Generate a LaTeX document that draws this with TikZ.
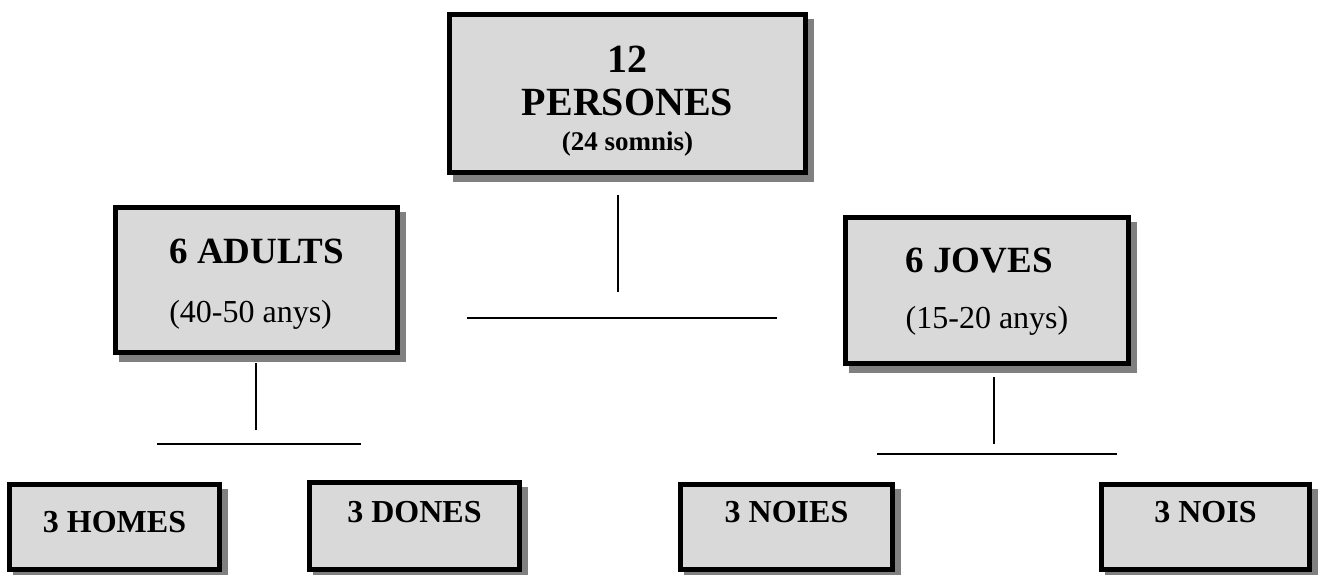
\documentclass[tikz,border=0pt]{standalone}
\usepackage{fontspec}
\setmainfont{Liberation Serif}
\usetikzlibrary{positioning}

\begin{document}
\begin{tikzpicture}[
    x=1pt, y=-1pt,
    box/.style={rectangle, draw=black, line width=5pt, fill=black!15, inner sep=0pt,
        preaction={draw=black!50, fill=black!50, line width=5pt, transform canvas={xshift=6pt, yshift=-6.5pt}}},
    leaf/.style={box, minimum width=210pt, minimum height=85pt, font=\fontsize{32}{36}\selectfont\bfseries, text height=22pt},
    link/.style={line width=2pt, black}
]
\useasboundingbox (0,0) rectangle (1325,574);

% boxes
\node[box, minimum width=356pt, minimum height=158pt, align=center, font=\fontsize{40}{43}\selectfont\bfseries, text height=118pt, text depth=5pt] (persones) at (627.5,93.5) {12\\PERSONES\\[-8pt]{\fontsize{27}{30}\selectfont (24 somnis)}};
\node[box, minimum width=282pt, minimum height=145pt, align=left, font=\fontsize{37}{59}\selectfont\bfseries, text height=87pt, text depth=3pt] (adults) at (256.5,280) {6 ADULTS\\{\fontsize{32}{36}\mdseries\selectfont (40-50 anys)}};
\node[box, minimum width=283pt, minimum height=146pt, align=left, font=\fontsize{37}{56}\selectfont\bfseries, text height=80pt, text depth=5pt] (joves) at (987,290.5) {6 JOVES\\{\fontsize{32}{36}\mdseries\selectfont (15-20 anys)}};

\node[leaf, text depth=12pt] (homes) at (114.5,527) {3 HOMES};
\node[leaf, minimum height=87pt, text depth=30pt] (dones) at (414.5,526) {3 DONES};
\node[leaf, minimum width=212pt, text depth=32pt] (noies) at (786.5,527) {3 NOIES};
\node[leaf, minimum width=208pt, text depth=32pt] (nois) at (1205.5,527) {3 NOIS};

% loose connectors
\coordinate (persones-stem-a) at (618,195);
\coordinate (persones-stem-b) at (618,292);
\coordinate (persones-bar-a) at (467,318);
\coordinate (persones-bar-b) at (777,318);
\coordinate (adults-stem-a) at (256,363);
\coordinate (adults-stem-b) at (256,430);
\coordinate (adults-bar-a) at (157,444);
\coordinate (adults-bar-b) at (361,444);
\coordinate (joves-stem-a) at (994,377);
\coordinate (joves-stem-b) at (994,444);
\coordinate (joves-bar-a) at (877,454);
\coordinate (joves-bar-b) at (1117,454);

\draw[link] (persones-stem-a) -- (persones-stem-b);
\draw[link] (persones-bar-a) -- (persones-bar-b);
\draw[link] (adults-stem-a) -- (adults-stem-b);
\draw[link] (adults-bar-a) -- (adults-bar-b);
\draw[link] (joves-stem-a) -- (joves-stem-b);
\draw[link] (joves-bar-a) -- (joves-bar-b);

\end{tikzpicture}
\end{document}
